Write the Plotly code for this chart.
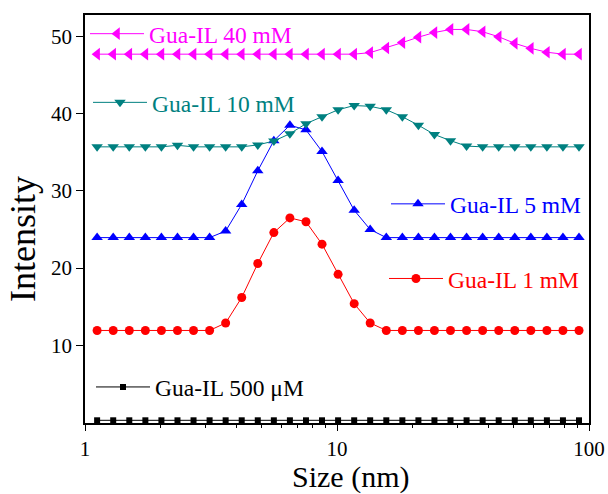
import plotly.graph_objects as go

# Size bins (nm)
size_nm = [1.117, 1.294, 1.499, 1.736, 2.010, 2.328, 2.696, 3.122, 3.615, 4.187,
           4.849, 5.615, 6.503, 7.531, 8.721, 10.10, 11.70, 13.54, 15.69, 18.17,
           21.04, 24.36, 28.21, 32.67, 37.84, 43.82, 50.75, 58.77, 68.06, 78.82, 91.28]

# Plotted (offset) intensities
gua_500uM = [0.3] * 31
gua_1mM = [11.93] * 8 + [12.9, 16.2, 20.6, 24.6, 26.5, 26.0, 23.1, 19.2, 15.4, 12.9] + [11.93] * 13
gua_5mM = [23.95] * 8 + [24.8, 28.25, 32.6, 36.5, 38.5, 37.9, 35.1, 31.35, 27.5, 25.0] + [23.95] * 13
gua_10mM = [35.7] * 5 + [35.9] + [35.7] * 4 + [35.95, 36.45, 37.4, 38.7, 39.6, 40.5, 41.05,
            40.95, 40.5, 39.6, 38.5, 37.3, 36.5, 35.8] + [35.7] * 7
gua_40mM = [47.7] * 17 + [47.9, 48.5, 49.2, 49.9, 50.5, 50.9, 50.9, 50.6, 49.95, 49.1,
            48.45, 47.95, 47.7, 47.7]

series = [
    ("Gua-IL 500 \u03bcM", gua_500uM, "#000000", "square", 6, "legend5"),
    ("Gua-IL 1 mM", gua_1mM, "#FF0000", "circle", 9, "legend4"),
    ("Gua-IL 5 mM", gua_5mM, "#0000FF", "triangle-up", 10, "legend3"),
    ("Gua-IL 10 mM", gua_10mM, "#008080", "triangle-down", 10, "legend2"),
    ("Gua-IL 40 mM", gua_40mM, "#FF00FF", "triangle-left", 11, "legend"),
]

FONT = "Times New Roman, Liberation Serif, serif"

fig = go.Figure()
for name, vals, color, sym, size, leg in series:
    fig.add_trace(go.Scatter(
        x=size_nm, y=vals, name=name, mode="lines+markers",
        line=dict(color=color, width=1),
        marker=dict(symbol=sym, size=size, color=color),
        legend=leg, showlegend=True,
    ))

W, H = 608, 494
L, R, T, B = 85, 19, 13, 71
pw, ph = W - L - R, H - T - B

def px(x):
    return (x - L) / pw

def py(y):
    return (H - B - y) / ph

def leg(x, y, color):
    return dict(x=px(x), y=py(y), xanchor="left", yanchor="middle",
                bgcolor="rgba(0,0,0,0)", borderwidth=0, itemwidth=54,
                font=dict(family=FONT, size=23.5, color=color), tracegroupgap=0,
                visible=True)

fig.update_layout(
    width=W, height=H,
    margin=dict(l=L, r=R, t=T, b=B),
    paper_bgcolor="white", plot_bgcolor="white",
    font=dict(family=FONT, color="black"),
    showlegend=True,
    legend=leg(85, 32, "#FF00FF"),
    legend2=leg(88, 101, "#008080"),
    legend3=leg(386, 203, "#0000FF"),
    legend4=leg(384, 278, "#FF0000"),
    legend5=leg(91, 387, "#000000"),
    annotations=[
        dict(text="Size (nm)", xref="paper", yref="paper", x=px(350), y=py(477),
             xanchor="center", yanchor="middle", showarrow=False,
             font=dict(family=FONT, size=30, color="black")),
        dict(text="Intensity", xref="paper", yref="paper", x=px(23), y=py(238),
             xanchor="center", yanchor="middle", showarrow=False, textangle=-90,
             font=dict(family=FONT, size=36, color="black")),
    ],
)

fig.update_xaxes(
    type="log", range=[0, 2], dtick=1, automargin=False,
    showline=True, linecolor="black", linewidth=1.5, mirror=True,
    showgrid=False, zeroline=False,
    ticks="outside", ticklen=6, tickcolor="black", tickwidth=1,
    minor=dict(ticks="outside", ticklen=3, tickcolor="black", dtick="D1", showgrid=False),
    tickfont=dict(family=FONT, size=21, color="black"),
)
fig.update_yaxes(
    range=[-0.05, 52.77], tickvals=[10, 20, 30, 40, 50], automargin=False,
    showline=True, linecolor="black", linewidth=1.5, mirror=True,
    showgrid=False, zeroline=False,
    ticks="outside", ticklen=7, tickcolor="black", tickwidth=1,
    tickfont=dict(family=FONT, size=21, color="black"),
)

fig.write_html("out.html")
